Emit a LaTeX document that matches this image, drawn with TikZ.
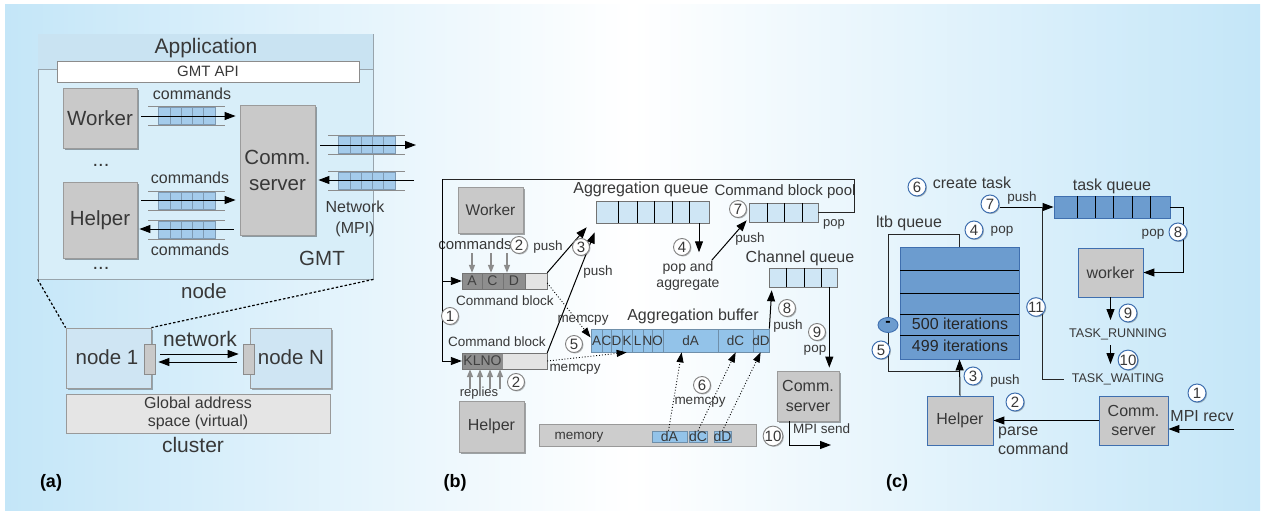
\documentclass[tikz,border=0pt]{standalone}
\usepackage{fontspec}
\setmainfont{Liberation Sans}
\usetikzlibrary{arrows.meta,shadows,calc}

\definecolor{bgblue}{HTML}{C4E6F8}
\definecolor{txt}{HTML}{383838}
\definecolor{boxgray}{HTML}{C9C9C9}
\definecolor{boxedge}{HTML}{9B9B9B}
\definecolor{framefill}{HTML}{D8EEF9}
\definecolor{headfill}{HTML}{C9E3F2}
\definecolor{frameedge}{HTML}{98A4AC}
\definecolor{cellblue}{HTML}{A4CBEB}
\definecolor{celledge}{HTML}{7E9AB3}
\definecolor{paleblue}{HTML}{CFE6F5}
\definecolor{bufblue}{HTML}{93C3E9}
\definecolor{bufedge}{HTML}{6F8FAA}
\definecolor{nodeblue}{HTML}{CFE5F3}
\definecolor{steel}{HTML}{6C9CCF}
\definecolor{steeledge}{HTML}{3F6FAF}
\definecolor{darkcell}{HTML}{8E8E8E}
\definecolor{lightcell}{HTML}{E3E3E3}
\definecolor{memgray}{HTML}{CDCDCD}

\newcommand\fsz[1]{\fontsize{#1}{#1}\selectfont}

% a message queue: two rails and five cells; #1 = left end of the rails, #2 = middle height
\newcommand\cellq[2]{%
  \draw[qrail] (#1,#2-9.5) -- ++(77,0) (#1,#2+9.5) -- ++(77,0);
  \foreach \k in {0,...,4}
    \draw[qcell] (#1+10.5+\k*11.3,#2-8.5) rectangle ++(11.3,17);
}

\tikzset{
  % one-line label of the given size, centred on the middle of its lower-case letters
  lbl/.style={text=txt, inner sep=0pt, font=\fsz{#1}, text height=0.72*#1pt, text depth=0.2*#1pt},
  mlbl/.style={text=txt, inner sep=0pt, align=center},
  gbox/.style={draw=boxedge, fill=boxgray, text=txt, inner sep=0pt, align=center, line width=0.8pt,
    drop shadow={shadow xshift=2pt, shadow yshift=-2pt, fill=black, opacity=0.35}},
  cbox/.style={draw=steeledge, fill=boxgray, text=txt, inner sep=0pt, align=center, line width=0.9pt},
  numb/.style={circle, draw=black!50, fill=white, text=txt, inner sep=0pt, minimum size=17pt,
    line width=0.9pt, font=\fsz{15},
    drop shadow={shadow xshift=1pt, shadow yshift=-1pt, fill=black, opacity=0.25}},
  numc/.style={numb, draw=steeledge, minimum size=18pt, line width=1pt},
  arr/.style={-{Triangle[length=11pt,width=8pt]}, line width=1pt, draw=black},
  garr/.style={-{Triangle[length=8pt,width=6pt]}, line width=1.5pt, draw=black!45, fill=black!45},
  darr/.style={-{Triangle[length=10pt,width=7pt]}, line width=0.9pt, dotted},
  qrail/.style={draw=black!45, line width=0.7pt},
  qcell/.style={draw=celledge, fill=cellblue, line width=0.6pt},
  ln/.style={draw=black!85, line width=0.9pt},
  divider/.style={draw=black, line width=0.6pt},
  tag/.style={inner sep=0pt, font=\bfseries\fsz{18}, text height=13pt, text depth=3.6pt},
}

\begin{document}
\begin{tikzpicture}[x=1pt,y=-1pt]
\useasboundingbox (0,0) rectangle (1267,517);
\shade[left color=bgblue, right color=bgblue, middle color=white] (5,4) rectangle (1260,510);

% ---------------- (a) one node and the cluster ----------------
\node[draw=frameedge, fill=framefill, line width=0.8pt, minimum width=335pt, minimum height=245pt, inner sep=0pt] (frameA) at (205.5,156.5) {};
\fill[headfill] (38.4,34.4) rectangle (372.6,69);
\draw[frameedge, line width=0.8pt] (38,69) -- (373,69);
\node[lbl=21] (appl) at (206,48) {Application};
\node[draw=black!45, fill=white, minimum width=302pt, minimum height=21pt, inner sep=0pt, font=\fsz{15}, text=txt] (gmtapi) at (208,71.5) {GMT API};

\node[gbox, minimum width=74pt, minimum height=60pt, font=\fsz{20.5}] (workA) at (100,118) {Worker};
\node[gbox, minimum width=74pt, minimum height=76pt, font=\fsz{20.5}] (helpA) at (100,220) {Helper};
\node[gbox, minimum width=75pt, minimum height=130pt, font=\fontsize{20.5}{26}\selectfont] (srvA) at (277.5,170) {Comm.\\server};
\node[lbl=20] (dotsA) at (101,161) {...};
\node[lbl=20] (dotsB) at (101,264) {...};

\cellq{148}{115.5}
\cellq{148}{200.5}
\cellq{148}{229.5}
\cellq{328}{145}
\cellq{328}{181}

\node[lbl=16] (cmdA1) at (192,95) {commands};
\node[lbl=16] (cmdA2) at (190,179) {commands};
\node[lbl=16] (cmdA3) at (190,251) {commands};

\draw[arr, shorten <=4pt, shorten >=4pt] (workA.east |- 0,116) -- (srvA.west |- 0,116);
\draw[arr, shorten <=4pt, shorten >=4pt] (helpA.east |- 0,200) -- (srvA.west |- 0,200);
\draw[arr, shorten <=6pt, shorten >=2pt] (srvA.west |- 0,229) -- (helpA.east |- 0,229);

\coordinate (netout) at (416,145);
\coordinate (netin) at (414,180);
\draw[arr, shorten <=5pt] (srvA.east |- netout) -- (netout);
\draw[arr, shorten >=3pt] (netin) -- (srvA.east |- netin);

\node[mlbl, font=\fontsize{16}{21}\selectfont] (netlbl) at (355,219) {Network\\(MPI)};
\node[lbl=20.5] (gmtlbl) at (322,260) {GMT};
\node[lbl=20.5] (nodelbl) at (204,293) {node};

\node[draw=boxedge, fill=nodeblue, line width=0.8pt, minimum width=85pt, minimum height=60pt, inner sep=0pt,
  drop shadow={shadow xshift=2pt, shadow yshift=-2pt, fill=black, opacity=0.3}] (node1) at (108.5,358) {};
\node[draw=boxedge, fill=nodeblue, line width=0.8pt, minimum width=81pt, minimum height=60pt, inner sep=0pt,
  drop shadow={shadow xshift=2pt, shadow yshift=-2pt, fill=black, opacity=0.3}] (nodeN) at (290.5,358) {};
\node[lbl=20.5] (node1lbl) at (107,359) {node 1};
\node[lbl=20.5] (nodeNlbl) at (291,359) {node N};
\node[draw=black!45, fill=boxgray, minimum width=11pt, minimum height=30pt, inner sep=0pt, line width=0.7pt] (port1) at (149.5,359) {};
\node[draw=black!45, fill=boxgray, minimum width=11pt, minimum height=30pt, inner sep=0pt, line width=0.7pt] (portN) at (248.5,359) {};

\draw[dash pattern=on 2.5pt off 2pt, line width=1.2pt] (frameA.south west) -- (node1.north west);
\draw[dash pattern=on 2.5pt off 2pt, line width=1.2pt] (frameA.south east) -- (node1.north east);

\node[lbl=21] (netwlbl) at (200,341) {network};
\draw[arr, shorten <=5pt, shorten >=4pt] (port1.east |- 0,354) -- (portN.west |- 0,354);
\draw[arr, shorten <=6pt, shorten >=3pt] (portN.west |- 0,362) -- (port1.east |- 0,362);

\node[draw=black!40, fill=black!10, minimum width=264pt, minimum height=39pt, inner sep=0pt, line width=0.7pt,
  font=\fontsize{16}{18}\selectfont, text=txt, align=center] (gas) at (198,413.5) {Global address\\space (virtual)};
\node[lbl=21] (clusterlbl) at (193,447) {cluster};
\node[tag] (tagA) at (51,483) {(a)};

% ---------------- (b) command aggregation ----------------
\node[gbox, minimum width=65pt, minimum height=46pt, font=\fsz{15.5}] (workB) at (490.5,210) {Worker};
\node[gbox, minimum width=65pt, minimum height=51pt, font=\fsz{16}] (helpB) at (491.5,426.5) {Helper};

% command block A C D
\fill[darkcell] (462,273) rectangle (525,289);
\fill[lightcell] (525,273) rectangle (547,289);
\draw[black!55, line width=0.6pt] (462,273) rectangle (547,289) (482,273) -- (482,289) (503,273) -- (503,289) (525,273) -- (525,289);
\node[inner sep=0pt, minimum width=85pt, minimum height=16pt] (cbA) at (504.5,281) {};
\foreach \x/\t [count=\i] in {472/A,492.5/C,514/D}
  \node[inner sep=0pt, font=\fsz{14}, text=black!75] (cbA-\i) at (\x,281) {\t};

% command block K L N O
\fill[darkcell] (462,353) rectangle (503,369);
\fill[lightcell] (503,353) rectangle (547,369);
\draw[black!55, line width=0.6pt] (462,353) rectangle (547,369);
\node[inner sep=0pt, minimum width=85pt, minimum height=16pt] (cbB) at (504.5,361) {};
\node[inner sep=0pt, font=\fsz{14}, text=black!75] (cbB-txt) at (482.5,361) {KLNO};

\node[lbl=15] (cmdB) at (475,246) {commands};
\node[lbl=13] (replB) at (479,393) {replies};
\foreach \x in {472,491,507}
  \draw[garr] (cmdB.south -| \x,0) -- (cbA.north -| \x,0);
\foreach \x in {470,480,490,500}
  \draw[garr, shorten <=-2pt] (replB.north -| \x,0) -- (cbB.south -| \x,0);

\node[lbl=13.5] (cblA) at (505,302) {Command block};
\node[lbl=13.5] (cblB) at (497,343) {Command block};

% aggregation queue
\node[draw=black!55, fill=paleblue, minimum width=113pt, minimum height=22pt, inner sep=0pt, line width=0.6pt] (aggQ) at (652.5,212) {};
\foreach \x in {618,637,654,672,689} \draw[divider] (\x,201) -- (\x,223);
\node[lbl=16] (aggQlbl) at (641,189) {Aggregation queue};

% command block pool
\node[draw=black!55, fill=paleblue, minimum width=69pt, minimum height=19pt, inner sep=0pt, line width=0.6pt] (poolQ) at (783.5,212.5) {};
\foreach \x in {767,784,802} \draw[divider] (\x,203) -- (\x,222);
\node[lbl=15] (poolQlbl) at (785,192) {Command block pool};

% channel queue
\node[draw=black!55, fill=paleblue, minimum width=68pt, minimum height=19pt, inner sep=0pt, line width=0.6pt] (chQ) at (803,277.5) {};
\foreach \x in {786,804,821} \draw[divider] (\x,268) -- (\x,287);
\node[lbl=16] (chQlbl) at (800,258) {Channel queue};

% aggregation buffer
\node[draw=bufedge, fill=bufblue, minimum width=178pt, minimum height=23pt, inner sep=0pt, line width=0.7pt] (aggBuf) at (680,340.5) {};
\foreach \x in {602,611,622,632,643,652,663,718,753} \draw[bufedge, line width=0.7pt] (\x,329) -- (\x,352);
\foreach \x/\t [count=\i] in {596.5/A,606.5/C,616.5/D,627/K,637.5/L,647.5/N,657.5/O,690.5/dA,735.5/dC,761/dD}
  \node[inner sep=0pt, font=\fsz{13.5}, text=txt] (buf-\i) at (\x,340.5) {\t};
\node[lbl=16] (aggBuflbl) at (693,316) {Aggregation buffer};

% memory
\node[draw=black!40, fill=memgray, minimum width=217pt, minimum height=22pt, inner sep=0pt, line width=0.7pt] (memB) at (647.5,435) {};
\node[lbl=13.5] (memlbl) at (579,436) {memory};
\node[draw=bufedge, fill=bufblue, minimum width=35pt, minimum height=11pt, inner sep=0pt, line width=0.6pt] (mdA) at (669.5,436.5) {};
\node[draw=bufedge, fill=bufblue, minimum width=18pt, minimum height=11pt, inner sep=0pt, line width=0.6pt] (mdC) at (698,436.5) {};
\node[draw=bufedge, fill=bufblue, minimum width=17pt, minimum height=11pt, inner sep=0pt, line width=0.6pt] (mdD) at (722.5,436.5) {};
\node[inner sep=0pt, font=\fsz{14}, text=txt] (mdAt) at (669.5,436) {dA};
\node[inner sep=0pt, font=\fsz{14}, text=txt] (mdCt) at (698,436) {dC};
\node[inner sep=0pt, font=\fsz{14}, text=txt] (mdDt) at (722.5,436) {dD};

\node[gbox, minimum width=62pt, minimum height=50pt, font=\fontsize{16}{20}\selectfont] (srvB) at (808,396) {Comm.\\server};

% loop from the block pool back to the command blocks
\coordinate (railB) at (442,179);
\draw[ln] (poolQ.east) -- ++(36,0) |- (railB);
\draw[arr, line width=0.9pt] (railB) |- (cbB.west);
\draw[arr, line width=0.9pt] (cbA.west -| railB) -- (cbA.west);
\node[lbl=13] (poplbl0) at (834,223) {pop};

\node[lbl=13.5] (pushB1) at (548,247) {push};
\node[lbl=13.5] (pushB2) at (598,272) {push};
\draw[arr] (cbA.north east) -- ($(aggQ.south west)+(-9,4)$);
\draw[arr] (cbB.north east) -- ($(aggQ.south west)+(-1,9)$);

\node[mlbl, font=\fontsize{14}{16}\selectfont] (popagg) at (688,276) {pop and\\aggregate};
\draw[arr, shorten >=9pt] (aggQ.south -| 699,0) -- (popagg.north -| 699,0);
\draw[arr] ($(popagg.north east)+(-8,-1)$) -- ($(poolQ.south west)+(-2,-2)$);
\node[lbl=13.5] (pushB3) at (750,239) {push};

\draw[darr] ($(cbA.east)+(0,2)$) -- ($(aggBuf.west)+(0,-3)$);
\draw[darr] (cbB.east) -- ($(aggBuf.south west)+(36,0)$);
\node[lbl=13.5] (mcpy1) at (583,319) {memcpy};
\node[lbl=13.5] (mcpy2) at (575,368) {memcpy};

\draw[darr] ($(mdA.north)+(-1,0)$) -- ($(aggBuf.south west)+(91,0)$);
\draw[darr] (mdC.north) -- ($(aggBuf.south west)+(145,0)$);
\draw[darr] (mdD.north) -- ($(aggBuf.south west)+(170,0)$);
\node[lbl=13.5] (mcpy3) at (700,401) {memcpy};

\draw[arr] (aggBuf.north east) -- ($(chQ.south west)+(3,3)$);
\node[lbl=13.5] (pushB4) at (788,326) {push};
\draw[arr, shorten >=3pt] ($(chQ.south east)+(-8,0)$) coordinate (popstart) -- (popstart |- srvB.north);
\node[lbl=13.5] (popB) at (815,349) {pop};

\coordinate (mpisend) at (831,445);
\draw[arr] ($(srvB.south west)+(13,0)$) |- (mpisend);
\node[lbl=13.5, anchor=west] (mpisendlbl) at (793,430) {MPI send};

\node[numb] (b1) at (450,316) {1};
\node[numb] (b2) at (519,245) {2};
\node[numb] (b3) at (581,247) {3};
\node[numb] (b4) at (682,247) {4};
\node[numb] (b5) at (574,344) {5};
\node[numb] (b2b) at (516,382) {2};
\node[numb] (b6) at (702,385) {6};
\node[numb] (b7) at (738,209) {7};
\node[numb] (b8) at (787,308) {8};
\node[numb] (b9) at (817,332) {9};
\node[numb] (b10) at (773,436) {10};

\node[tag] (tagB) at (455,483) {(b)};

% ---------------- (c) incoming command handling ----------------
\node[draw=steeledge, fill=steel, line width=0.9pt, minimum width=116pt, minimum height=22pt, inner sep=0pt] (taskQ) at (1112,207) {};
\foreach \x in {1077,1095,1113,1132,1150} \draw[black, line width=0.7pt] (\x,196) -- (\x,218);
\node[lbl=16] (taskQlbl) at (1112,186) {task queue};

\node[cbox, minimum width=65pt, minimum height=49pt, font=\fsz{16}] (workC) at (1110.5,272.5) {worker};

\node[draw=steeledge, fill=steel, line width=0.9pt, minimum width=119pt, minimum height=112pt, inner sep=0pt] (ltbQ) at (959.5,303) {};
\foreach \y in {270,293,314,335} \draw[black, line width=0.7pt] (900,\y) -- (1019,\y);
\node[lbl=16, text=black!85] (it500) at (960,325) {500 iterations};
\node[lbl=16, text=black!85] (it499) at (960,347) {499 iterations};
\node[lbl=16] (ltblbl) at (909,223) {ltb queue};

\node[cbox, minimum width=66pt, minimum height=49pt, font=\fsz{16}] (helpC) at (960,420.5) {Helper};
\node[cbox, minimum width=69pt, minimum height=49pt, font=\fontsize{16}{19}\selectfont] (srvC) at (1133.5,420.5) {Comm.\\server};

\node[lbl=12.6] (runlbl) at (1118,334) {TASK\_RUNNING};
\node[lbl=12.6] (waitlbl) at (1118,379) {TASK\_WAITING};

\node[numc] (c7) at (990,204) {7};
\draw[arr] (c7.east |- taskQ.west) -- (taskQ.west);
\coordinate (j11) at (1042,207);
\draw[ln] (j11) |- ([xshift=-8pt]waitlbl.west);
\draw[arr] (taskQ.east) -- ++(13,0) |- (workC.east);
\draw[arr, shorten >=8pt] (workC.south) -- (workC.south |- runlbl.north);
\draw[arr, shorten <=5pt, shorten >=9pt] (workC.south |- runlbl.south) -- (workC.south |- waitlbl.north);

\draw[ln] (ltbQ.north) -- ++(0,-12) -| ($(helpC.north)+(-72,-24)$) -- ++(72,0);
\draw[arr] (helpC.north) -- (ltbQ.south);
% the decrement mark on the loop
\filldraw[fill=steel, draw=steeledge, line width=0.9pt] (888,325) ellipse [x radius=10pt, y radius=7.5pt];
\node[inner sep=0pt, font=\bfseries\fsz{16}, text=black] (minus) at (888,324) {-};

\draw[arr] (srvC.west) -- (helpC.east);
\coordinate (mpirecv) at (1234,429);
\draw[arr] (mpirecv) -- (srvC.east |- mpirecv);

\node[lbl=16] (createlbl) at (972,184) {create task};
\node[lbl=13.5] (pushC1) at (1022,198) {push};
\node[lbl=13.5] (popC1) at (1002,230) {pop};
\node[lbl=13.5] (popC2) at (1153,233) {pop};
\node[lbl=13.5] (pushC2) at (1005,381) {push};
\node[mlbl, font=\fontsize{16}{19}\selectfont, align=left, anchor=north west] (parselbl) at (998,427) {parse\\command};
\node[lbl=16] (recvlbl) at (1202,417) {MPI recv};

\node[numc] (c6) at (917,187) {6};
\node[numc] (c4) at (974,230) {4};
\node[numc] (c5) at (881,350) {5};
\node[numc] (c11) at (1036,307) {11};
\node[numc] (c8) at (1178,232) {8};
\node[numc] (c9) at (1128,313) {9};
\node[numc] (c10) at (1128,360) {10};
\node[numc] (c3) at (973,376) {3};
\node[numc] (c2) at (1015,402) {2};
\node[numc] (c1) at (1197,393) {1};

\node[tag] (tagC) at (897,483) {(c)};
\end{tikzpicture}
\end{document}
